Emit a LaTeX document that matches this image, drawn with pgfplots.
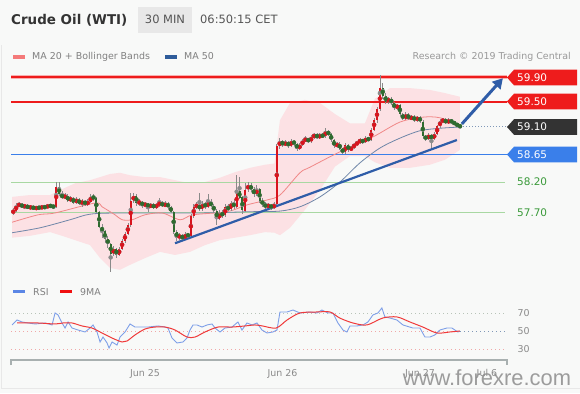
\documentclass[border=0pt]{standalone}
\usepackage{fontspec}
\setmainfont{DejaVu Sans}
\newfontfamily\wmfont{Liberation Sans}
\usepackage{pgfplots}
\usepackage{pgfplotstable}
\pgfplotsset{compat=1.18}
\usepgfplotslibrary{fillbetween}
\usetikzlibrary{arrows.meta}

\definecolor{bg}{HTML}{F8F9F8}
\definecolor{upc}{HTML}{D8141E}
\definecolor{dnc}{HTML}{2F6B2F}
\definecolor{wick}{HTML}{8A8A8A}
\definecolor{band}{HTML}{FCE1E4}
\definecolor{ma20}{HTML}{F08888}
\definecolor{ma50}{HTML}{6F86A8}
\definecolor{resred}{HTML}{EE1C1C}
\definecolor{supblue}{HTML}{3A7FEA}
\definecolor{supgreen}{HTML}{A8D8A2}
\definecolor{txtgreen}{HTML}{3A9A3A}
\definecolor{trend}{HTML}{2F5DA8}
\definecolor{curdark}{HTML}{333333}
\definecolor{curdot}{HTML}{8098B8}
\definecolor{rsiblue}{HTML}{7E9FE8}
\definecolor{rsired}{HTML}{F03A3A}
\definecolor{gridgray}{HTML}{B8C4B8}
\definecolor{gridred}{HTML}{F0A8A8}
\definecolor{axgray}{HTML}{A8B0B0}
\definecolor{tickgray}{HTML}{8A8A8A}
\definecolor{titlec}{HTML}{333333}
\definecolor{headc}{HTML}{555555}
\definecolor{legc}{HTML}{808080}
\definecolor{swred}{HTML}{F47A7A}
\definecolor{swblue}{HTML}{2E5C9A}
\definecolor{swrsi}{HTML}{5B86E5}
\definecolor{swma}{HTML}{F01010}

% 30-minute candles: time (hours from Jun 24 00:00), open, high, low, close
\pgfplotstableread{
t o h l c
1.0 57.70 57.78 57.66 57.74
1.5 57.74 57.86 57.72 57.82
2.0 57.82 57.88 57.79 57.84
2.5 57.84 57.86 57.78 57.80
3.0 57.80 57.84 57.76 57.82
3.5 57.82 57.84 57.76 57.78
4.0 57.78 57.82 57.76 57.80
4.5 57.80 57.82 57.75 57.77
5.0 57.77 57.81 57.75 57.79
5.5 57.79 57.81 57.76 57.78
6.0 57.78 57.82 57.77 57.80
6.5 57.80 57.82 57.77 57.79
7.0 57.79 57.84 57.78 57.82
7.5 57.82 57.84 57.79 57.81
8.0 57.81 57.83 57.77 57.80
8.5 57.80 58.20 57.78 58.12
9.0 58.12 58.20 57.97 58.00
9.5 58.00 58.06 57.92 57.95
10.0 57.95 58.02 57.93 57.98
10.5 57.98 58.00 57.88 57.90
11.0 57.90 57.97 57.88 57.94
11.5 57.94 57.96 57.85 57.87
12.0 57.87 57.95 57.85 57.92
12.5 57.92 57.94 57.83 57.85
13.0 57.85 57.92 57.80 57.89
13.5 57.89 57.91 57.82 57.84
14.0 57.84 57.92 57.82 57.88
14.5 57.88 58.00 57.86 57.96
15.0 57.96 58.00 57.90 57.94
15.5 57.94 57.96 57.70 57.72
16.0 57.72 57.74 57.45 57.48
16.5 57.48 57.52 57.30 57.40
17.0 57.40 57.42 57.22 57.28
17.5 57.28 57.32 57.14 57.20
18.0 57.20 57.22 56.74 57.04
18.5 57.04 57.16 57.00 57.12
19.0 57.12 57.14 56.98 57.02
19.5 57.02 57.15 57.00 57.12
20.0 57.12 57.28 57.10 57.25
20.5 57.25 57.40 57.22 57.36
21.0 57.36 57.54 57.34 57.50
21.5 57.50 58.02 57.48 57.90
22.0 57.90 58.02 57.86 57.98
22.5 57.98 58.00 57.82 57.86
23.0 57.86 57.92 57.82 57.88
23.5 57.88 57.90 57.78 57.82
24.0 57.82 57.88 57.80 57.85
24.5 57.85 57.87 57.72 57.80
25.0 57.80 57.86 57.78 57.83
25.5 57.83 57.86 57.76 57.79
26.0 57.79 57.86 57.77 57.83
26.5 57.83 57.95 57.80 57.87
27.0 57.87 57.90 57.79 57.81
27.5 57.81 57.89 57.79 57.85
28.0 57.85 57.88 57.77 57.80
28.5 57.80 57.82 57.70 57.72
29.0 57.72 57.74 57.36 57.40
29.5 57.40 57.42 57.24 57.30
30.0 57.30 57.37 57.27 57.34
30.5 57.34 57.36 57.25 57.28
31.0 57.28 57.39 57.26 57.36
31.5 57.36 57.38 57.29 57.32
32.0 57.32 57.68 57.30 57.65
32.5 57.65 57.85 57.62 57.80
33.0 57.80 57.88 57.76 57.83
33.5 57.83 58.02 57.73 57.76
34.0 57.76 57.90 57.74 57.85
34.5 57.85 57.88 57.76 57.80
35.0 57.80 58.00 57.78 57.87
35.5 57.87 57.92 57.79 57.82
36.0 57.82 57.84 57.70 57.74
36.5 57.74 57.76 57.50 57.60
37.0 57.60 57.74 57.58 57.70
37.5 57.70 57.74 57.62 57.66
38.0 57.66 57.84 57.64 57.80
38.5 57.80 57.84 57.73 57.76
39.0 57.76 57.90 57.74 57.86
39.5 57.86 57.92 57.76 57.80
40.0 57.80 58.31 57.78 58.05
40.5 58.05 58.28 57.92 57.95
41.0 57.95 57.98 57.68 57.74
41.5 57.74 58.18 57.72 58.08
42.0 58.08 58.20 58.04 58.15
42.5 58.15 58.18 58.04 58.08
43.0 58.08 58.12 57.96 58.00
43.5 58.00 58.15 57.98 58.08
44.0 58.08 58.10 57.86 57.90
44.5 57.90 57.94 57.80 57.84
45.0 57.84 57.88 57.77 57.80
45.5 57.80 57.86 57.78 57.83
46.0 57.83 57.85 57.75 57.78
46.5 57.78 57.88 57.76 57.84
47.0 57.84 58.82 57.82 58.78
47.5 58.78 58.92 58.74 58.86
48.0 58.86 58.88 58.76 58.80
48.5 58.80 58.88 58.78 58.84
49.0 58.84 58.86 58.76 58.79
49.5 58.79 58.89 58.77 58.86
50.0 58.86 58.88 58.79 58.82
50.5 58.82 58.84 58.70 58.74
51.0 58.74 58.83 58.72 58.80
51.5 58.80 58.90 58.78 58.87
52.0 58.87 58.94 58.85 58.90
52.5 58.90 58.92 58.83 58.86
53.0 58.86 58.96 58.84 58.92
53.5 58.92 59.00 58.90 58.97
54.0 58.97 58.99 58.89 58.92
54.5 58.92 59.00 58.90 58.96
55.0 58.96 58.99 58.91 58.94
55.5 58.94 59.07 58.92 59.02
56.0 59.02 59.05 58.94 58.97
56.5 58.97 58.99 58.85 58.88
57.0 58.88 58.90 58.75 58.78
57.5 58.78 58.85 58.76 58.82
58.0 58.82 58.84 58.72 58.74
58.5 58.74 58.76 58.65 58.68
59.0 58.68 58.83 58.66 58.80
59.5 58.80 58.82 58.69 58.72
60.0 58.72 58.79 58.70 58.76
60.5 58.76 58.84 58.74 58.81
61.0 58.81 58.87 58.79 58.84
61.5 58.84 58.91 58.82 58.88
62.0 58.88 58.90 58.82 58.85
62.5 58.85 58.94 58.83 58.91
63.0 58.91 58.93 58.86 58.88
63.5 58.88 59.08 58.86 59.05
64.0 59.05 59.24 59.02 59.20
64.5 59.20 59.42 59.16 59.38
65.0 59.38 59.93 59.35 59.72
65.5 59.72 59.80 59.55 59.60
66.0 59.60 59.64 59.46 59.50
66.5 59.50 59.58 59.46 59.55
67.0 59.55 59.57 59.44 59.48
67.5 59.48 59.50 59.36 59.40
68.0 59.40 59.47 59.37 59.44
68.5 59.44 59.46 59.27 59.30
69.0 59.30 59.32 59.20 59.22
69.5 59.22 59.33 59.20 59.30
70.0 59.30 59.32 59.20 59.22
70.5 59.22 59.28 59.20 59.26
71.0 59.26 59.28 59.18 59.20
71.5 59.20 59.27 59.18 59.25
72.0 59.25 59.27 59.16 59.18
72.5 59.18 59.20 58.90 58.94
73.0 58.94 58.97 58.87 58.90
73.5 58.90 58.99 58.88 58.96
74.0 58.96 58.98 58.75 58.90
74.5 58.90 59.01 58.88 58.98
75.0 58.98 59.13 58.96 59.10
75.5 59.10 59.22 59.08 59.18
76.0 59.18 59.24 59.15 59.21
76.5 59.21 59.23 59.14 59.16
77.0 59.16 59.23 59.14 59.20
77.5 59.20 59.22 59.14 59.17
78.0 59.17 59.19 59.12 59.14
78.5 59.14 59.16 59.09 59.11
79.0 59.11 59.13 59.07 59.10
}\candles

% Bollinger bands (upper, lower)
\pgfplotstableread{
t up lo
0.79 57.96 57.30
3.93 57.99 57.33
7.42 57.99 57.39
9.17 58.07 57.34
11.78 58.18 57.26
14.40 58.23 57.18
16.15 58.28 56.97
17.89 58.33 56.81
19.64 58.35 56.78
21.38 58.31 56.86
24.00 58.28 56.97
26.62 58.28 57.07
29.24 58.23 57.02
31.85 58.18 57.07
34.47 58.20 57.18
37.09 58.27 57.26
39.71 58.36 57.30
42.32 58.43 57.34
44.94 58.48 57.39
46.60 58.50 57.38
47.56 59.20 57.34
49.31 59.48 57.46
51.92 59.53 57.75
54.54 59.48 58.07
57.16 59.30 58.45
59.78 59.15 58.62
62.39 59.15 58.62
64.14 59.55 58.52
66.76 59.72 58.43
70.25 59.72 58.43
73.74 59.69 58.48
76.35 59.64 58.56
78.97 59.58 58.72
}\bands

% MA 20
\pgfplotstableread{
t v
0.79 57.55
5.33 57.67
8.29 57.70
15.27 57.86
16.49 57.80
18.76 57.67
19.99 57.59
21.73 57.59
24.00 57.67
26.97 57.70
30.11 57.59
32.38 57.67
38.31 57.72
41.80 57.83
45.29 57.91
47.56 57.99
51.05 58.35
52.80 58.44
58.03 58.69
63.79 58.93
68.50 59.17
72.52 59.25
75.48 59.24
78.97 59.12
}\maA

% MA 50
\pgfplotstableread{
t v
0.79 57.38
5.68 57.46
10.91 57.59
14.40 57.68
19.64 57.70
33.60 57.70
42.32 57.72
47.56 57.73
51.05 57.80
54.54 57.96
58.03 58.20
61.52 58.51
65.01 58.75
68.50 58.91
72.00 59.03
75.48 59.07
78.97 59.09
}\maB

% RSI
\pgfplotstableread{
t v
0.79 56.7
1.66 62.2
2.53 60.0
3.58 58.9
4.80 57.8
6.55 58.9
7.77 56.7
8.29 70.0
8.82 67.8
9.51 58.9
10.04 53.3
10.56 60.0
11.26 53.3
12.31 51.1
13.53 48.9
14.40 53.3
14.92 56.7
15.62 48.9
16.15 37.8
16.67 43.3
17.37 36.7
17.72 31.1
18.24 37.8
19.11 34.4
19.64 43.3
20.51 48.9
21.38 57.8
22.25 54.4
23.48 54.4
24.52 54.4
26.27 55.6
27.49 54.4
28.01 53.3
28.71 42.2
29.58 36.7
30.63 37.8
31.33 42.2
31.85 51.1
32.38 56.7
33.08 56.7
33.95 54.4
34.82 56.7
35.69 57.8
36.22 53.3
37.09 48.9
37.96 53.3
39.18 54.4
40.23 60.0
40.93 51.1
41.80 58.9
42.67 56.7
43.55 58.9
44.42 51.1
45.29 47.8
46.34 48.9
47.04 51.1
47.56 71.1
48.78 71.1
49.83 73.3
51.05 70.0
52.80 71.1
54.02 70.0
54.89 73.3
55.94 70.0
56.81 70.0
57.68 58.9
58.56 51.1
59.25 48.9
59.78 55.6
61.00 55.6
62.05 56.7
62.92 60.0
63.79 67.8
64.66 70.0
65.36 75.6
65.88 65.6
66.76 64.4
67.98 62.2
69.03 56.7
70.77 53.3
72.00 53.3
72.87 43.3
73.74 43.3
74.61 45.6
75.48 51.1
76.70 53.3
77.58 53.3
78.10 51.1
78.63 48.9
78.97 50.0
}\rsi

% RSI 9MA
\pgfplotstableread{
t v
1.66 58.9
3.06 58.9
5.33 58.9
8.29 57.8
9.69 58.9
11.26 58.9
13.00 55.6
14.74 53.3
16.49 47.8
18.24 42.2
19.99 37.8
20.86 38.9
22.25 45.6
24.00 52.2
25.75 54.4
27.49 54.4
29.23 51.1
31.33 43.3
32.73 43.3
34.47 48.9
36.74 54.4
39.18 54.4
41.45 55.6
43.20 56.7
44.50 55.6
46.90 53.3
48.80 62.2
51.05 70.0
54.02 71.1
56.30 71.1
58.00 64.4
60.30 58.9
62.75 56.7
65.50 64.4
67.98 65.6
70.25 60.0
72.50 54.4
74.96 47.8
77.20 48.9
78.97 50.0
}\rsima

\begin{document}
\begin{tikzpicture}[x=1bp,y=1bp]
\fill[bg] (0,0) rectangle (580,393);
\draw[black!9, line width=0.8bp] (1,348) -- (1,5) -- (580,5);

% header
\node[anchor=base west, inner sep=0, font=\fontsize{13.5}{16}\selectfont\bfseries, text=titlec] at (11,369) {Crude Oil (WTI)};
\fill[black!9] (138,360) rectangle (192,386);
\node[anchor=base, inner sep=0, font=\fontsize{11.5}{14}\selectfont, text=headc] at (165,370) {30 MIN};
\node[anchor=base west, inner sep=0, font=\fontsize{11.5}{14}\selectfont, text=headc] at (200,370) {06:50:15 CET};

% legend
\fill[swred] (13,334.5) rectangle (25,338.5);
\node[anchor=base west, inner sep=0, font=\fontsize{9.5}{11}\selectfont, text=legc] at (32,334) {MA 20 + Bollinger Bands};
\fill[swblue] (165,334.5) rectangle (177,338.5);
\node[anchor=base west, inner sep=0, font=\fontsize{9.5}{11}\selectfont, text=legc] at (184,334) {MA 50};
\node[anchor=base east, inner sep=0, font=\fontsize{9.5}{11}\selectfont, text=black!40] at (571,334) {Research © 2019 Trading Central};

\begin{axis}[at={(11bp,113bp)}, anchor=south west, scale only axis,
  width=496bp, height=215bp, xmin=0.6, xmax=87.2, ymin=56.615, ymax=60.094,
  axis lines=none, xtick=\empty, ytick=\empty, clip=false]
  % Bollinger band
  \addplot[name path=bup, draw=none, forget plot] table[x=t,y=up]{\bands};
  \addplot[name path=blo, draw=none, forget plot] table[x=t,y=lo]{\bands};
  \addplot[fill=band, draw=none, forget plot] fill between[of=bup and blo, on layer=main];
  % levels
  \addplot[resred!35, line width=3.5bp] coordinates {(0.6,59.9) (87.2,59.9)};
  \addplot[resred, line width=1.4bp] coordinates {(0.6,59.9) (87.2,59.9)};
  \addplot[resred, line width=2bp] coordinates {(0.6,59.5) (87.2,59.5)};
  \addplot[supblue, line width=1bp] coordinates {(0.6,58.65) (87.2,58.65)};
  \addplot[supgreen, line width=1bp] coordinates {(0.6,58.2) (86.8,58.2)};
  \addplot[supgreen, line width=1bp] coordinates {(0.6,57.7) (86.8,57.7)};
  \addplot[curdot, line width=1bp, dash pattern=on 1bp off 2bp] coordinates {(79.0,59.1) (87.2,59.1)};
  % moving averages
  \addplot[ma50, line width=0.8bp, smooth] table[x=t,y=v]{\maB};
  \addplot[ma20, line width=0.8bp, smooth] table[x=t,y=v]{\maA};
  % wicks
  \addplot[only marks, mark=none, color=wick,
    error bars/.cd, y dir=both, y explicit, error mark=none,
    error bar style={line width=0.6bp, color=wick}]
    table[x=t, y expr={(\thisrow{h}+\thisrow{l})/2}, y error expr={(\thisrow{h}-\thisrow{l})/2}]{\candles};
  % bodies up
  \addplot[only marks, mark=none, color=upc,
    restrict expr to domain={\thisrow{c}-\thisrow{o}}{0:10},
    error bars/.cd, y dir=both, y explicit, error mark=none,
    error bar style={line width=2bp, color=upc, line cap=butt}]
    table[x=t, y expr={(\thisrow{o}+\thisrow{c})/2}, y error expr={max(abs(\thisrow{c}-\thisrow{o})/2,0.008)}]{\candles};
  % bodies down
  \addplot[only marks, mark=none, color=dnc,
    restrict expr to domain={\thisrow{c}-\thisrow{o}}{-10:0},
    error bars/.cd, y dir=both, y explicit, error mark=none,
    error bar style={line width=2bp, color=dnc, line cap=butt}]
    table[x=t, y expr={(\thisrow{o}+\thisrow{c})/2}, y error expr={max(abs(\thisrow{c}-\thisrow{o})/2,0.008)}]{\candles};
  % trend line and arrow
  \addplot[trend, line width=2.2bp] coordinates {(29.24,57.21) (78.45,58.88)};
  \addplot[trend, line width=3bp, -{Triangle[length=10bp,width=11bp]}] coordinates {(79.32,59.14) (86.48,59.88)};
\end{axis}

% price tags
\newcommand{\ptag}[3]{%
  \fill[#2] (507,#1) -- (514,#1+7.8) -- (577,#1+7.8) -- (577,#1-7.8) -- (514,#1-7.8) -- cycle;
  \node[anchor=west, inner sep=0, font=\fontsize{10.5}{12}\selectfont, text=white] at (517,#1) {#3};}
\ptag{315.5}{resred}{59.90}
\ptag{291.5}{resred}{59.50}
\ptag{266}{curdark}{59.10}
\ptag{238.5}{supblue}{58.65}
\node[anchor=west, inner sep=0, font=\fontsize{10.5}{12}\selectfont, text=txtgreen] at (517,211) {58.20};
\node[anchor=west, inner sep=0, font=\fontsize{10.5}{12}\selectfont, text=txtgreen] at (517,180) {57.70};

% RSI legend
\fill[swrsi] (13,100) rectangle (25,103.5);
\node[anchor=base west, inner sep=0, font=\fontsize{9.5}{11}\selectfont, text=legc] at (33,98) {RSI};
\fill[swma] (60,100) rectangle (72,103.5);
\node[anchor=base west, inner sep=0, font=\fontsize{9.5}{11}\selectfont, text=legc] at (80,98) {9MA};

\begin{axis}[at={(11bp,33bp)}, anchor=south west, scale only axis,
  width=496bp, height=60bp, xmin=0.6, xmax=87.2, ymin=17.8, ymax=84.4,
  axis line style={draw=none}, tick style={draw=none},
  xtick={24,48,72,83.7}, xticklabels={Jun 25,Jun 26,Jun 27,Jul 6},
  xticklabel style={font=\fontsize{9.5}{11}\selectfont, text=tickgray, anchor=base, yshift=-16bp},
  ytick={30,50,70}, yticklabels={30,50,70}, yticklabel pos=right,
  yticklabel style={font=\fontsize{9.5}{11}\selectfont, text=tickgray, anchor=west, xshift=7bp},
  clip=false]
  \addplot[gridgray, line width=0.9bp, dash pattern=on 1bp off 3bp] coordinates {(0.6,70) (87.2,70)};
  \addplot[gridred, line width=0.9bp, dash pattern=on 1bp off 3bp] coordinates {(0.6,50) (79.0,50)};
  \addplot[curdot, line width=0.9bp, dash pattern=on 1bp off 3bp] coordinates {(79.0,50) (87.2,50)};
  \addplot[gridred, line width=0.9bp, dash pattern=on 1bp off 3bp] coordinates {(0.6,30) (87.2,30)};
  \addplot[rsiblue, line width=0.9bp] table[x=t,y=v]{\rsi};
  \addplot[rsired, line width=1bp, smooth] table[x=t,y=v]{\rsima};
\end{axis}
\draw[axgray, line width=1.2bp] (11,28) -- (11,33) -- (507,33) -- (507,28);

% watermark
\node[anchor=base, inner sep=0, font=\wmfont\fontsize{22}{26}\selectfont, text=black!45, opacity=0.85] at (487,8) {www.forexre.com};

\pgfresetboundingbox
\path (0,0) rectangle (580,393);
\end{tikzpicture}
\end{document}
